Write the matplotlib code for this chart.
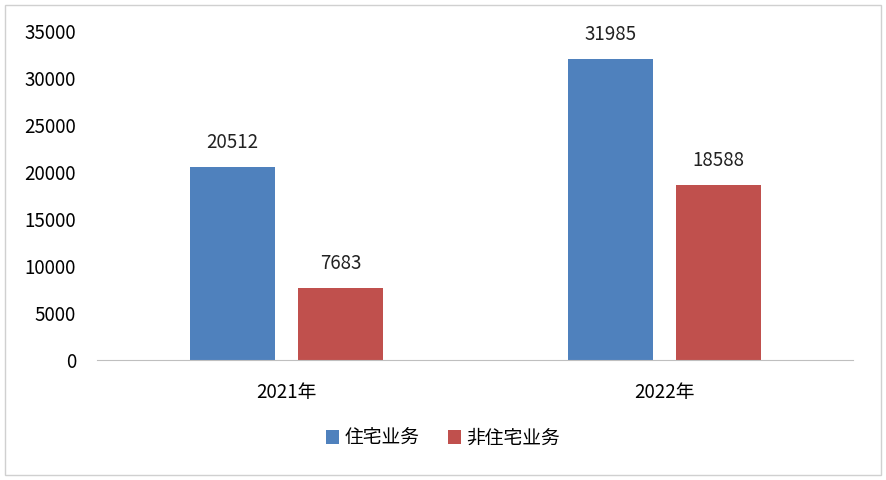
import matplotlib.pyplot as plt
import numpy as np

plt.rcParams['font.family'] = 'sans-serif'
plt.rcParams['font.sans-serif'] = ['Noto Sans CJK SC', 'Noto Sans CJK JP', 'Noto Sans CJK KR', 'DejaVu Sans']

years = ['2021年', '2022年']
series = ['住宅业务', '非住宅业务']
residential = [20512, 31985]
non_residential = [7683, 18588]
colors = ['#4f81bd', '#c0504d']

fig = plt.figure(figsize=(8.86, 4.8), dpi=100)
ax = fig.add_axes([97/886, 1-360/480, 756/886, 329/480])

x = np.arange(len(years))
w = 0.225
b1 = ax.bar(x - 0.142, residential, w, color=colors[0], label=series[0])
b2 = ax.bar(x + 0.144, non_residential, w, color=colors[1], label=series[1])
for bars in (b1, b2):
    for b in bars:
        ax.text(b.get_x() + b.get_width()/2, b.get_height() + 1500, f'{int(b.get_height())}',
                ha='center', va='bottom', fontsize=13.5, color='#222222')

ax.set_xlim(-0.5, 1.5)
ax.set_ylim(0, 35000)
ax.set_yticks(range(0, 35001, 5000))
ax.set_xticks(x)
ax.set_xticklabels(years, fontsize=13.5)
ax.tick_params(axis='y', labelsize=13.5, length=0, pad=15)
ax.tick_params(axis='x', length=0, pad=16)
for s in ['top', 'right', 'left']:
    ax.spines[s].set_visible(False)
ax.spines['bottom'].set_color('#bfbfbf')

fig.legend(loc='center', bbox_to_anchor=(0.5, 1-438/480), ncol=2, frameon=False,
           fontsize=13.5, handlelength=0.7, handleheight=0.7, columnspacing=1.5, handletextpad=0.3)

fig.patches.append(plt.Rectangle((0.006, 0.01), 0.988, 0.98, transform=fig.transFigure,
                                 fill=False, edgecolor='#d0d0d0', linewidth=1))

fig.savefig('out.png', dpi=100)
